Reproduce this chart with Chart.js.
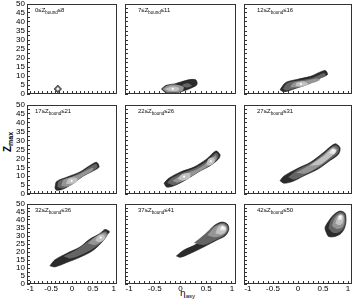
<!DOCTYPE html>
<html lang="en">
<head>
<meta charset="UTF-8" />
<title>Zmax vs eta_asy</title>
<script src="https://cdn.jsdelivr.net/npm/chart.js"></script>
<style>
  body { margin: 0; background: #fff; }
  #wrap { position: relative; width: 355px; height: 300px; overflow: hidden; font-family: "Liberation Sans", Arial, sans-serif; }
  #wrap canvas { position: absolute; }
  .lbl { position: absolute; font-size: 6px; line-height: 6px; color: #111; white-space: nowrap; }
  .lbl sub { font-size: 4.5px; vertical-align: -1.5px; line-height: 0; }
  #ytitle { position: absolute; left: 8px; top: 142px; transform: translate(-50%, -50%) rotate(-90deg); font-size: 10px; font-weight: bold; white-space: nowrap; line-height: 10px; }
  #ytitle sub { font-size: 7px; vertical-align: -2px; line-height: 0; }
  #xtitle { position: absolute; left: 180px; top: 289px; font-family: "DejaVu Sans", sans-serif; font-size: 9px; color: #000; white-space: nowrap; line-height: 9px; }
  #xtitle sub { font-family: "Liberation Sans", Arial, sans-serif; font-size: 6px; vertical-align: -2px; line-height: 0; }
</style>
</head>
<body>
<div id="wrap">
  <div id="ytitle">Z<sub>max</sub></div>
  <div id="xtitle">η<sub>asy</sub></div>
</div>
<script>
// Z_bound ranges of the nine panels
const zBoundRanges = [[0, 8], [7, 11], [12, 16], [17, 21], [22, 26], [27, 31], [32, 36], [37, 41], [42, 50]];

// axis ticks
const xTicks = [-1, -0.9, -0.8, -0.7, -0.6, -0.5, -0.4, -0.3, -0.2, -0.1, 0, 0.1, 0.2, 0.3, 0.4, 0.5, 0.6, 0.7, 0.8, 0.9, 1];
const xLabels = [-1, -0.5, 0, 0.5, 1];
const yTicks = [0, 2.5, 5, 7.5, 10, 12.5, 15, 17.5, 20, 22.5, 25, 27.5, 30, 32.5, 35, 37.5, 40, 42.5, 45, 47.5, 50];
const yLabels = [0, 5, 10, 15, 20, 25, 30, 35, 40, 45, 50];

// contour level fills, outer (lowest) to inner (highest)
const levelColors = ['#2b2b2b', '#646464', '#959595', '#c2c2c2', '#e8e8e8'];

// contour outlines per panel (eta_asy, Z_max), and the level of each outline
const shapes1 = [
  [[-0.34, 0.6], [-0.25, 2.8], [-0.34, 5.0], [-0.43, 2.8]],
  [[-0.34, 1.6], [-0.29, 2.8], [-0.34, 4.0], [-0.39, 2.8]]
];
const levels1 = [1, 3];
const peaks1 = [[-0.34, 2.8]];

const shapes2 = [
  [[-0.37, 2.8], [-0.3, 1.1], [-0.12, 0.5], [0.05, 1.6], [0.2, 3.2], [0.32, 5.2], [0.3, 7.8], [0.18, 8.0], [0.02, 6.8], [-0.12, 5.6], [-0.28, 4.8]],
  [[-0.35, 2.8], [-0.28, 1.3], [-0.12, 0.8], [0.04, 1.8], [0.06, 4.0], [-0.08, 5.2], [-0.26, 4.6]],
  [[0.06, 4.0], [0.14, 3.6], [0.22, 4.6], [0.14, 6.0], [0.04, 5.2]],
  [[-0.3, 2.8], [-0.2, 1.6], [-0.06, 1.8], [-0.02, 3.4], [-0.16, 4.2]]
];
const levels2 = [0, 2, 1, 3];
const peaks2 = [[-0.15, 2.9]];

const shapes3 = [
  [[-0.36, 2.3], [-0.25, 6.3], [-0.02, 8.1], [0.25, 9.8], [0.54, 13.1], [0.59, 10.8], [0.45, 9.0], [0.18, 5.4], [-0.05, 3.1], [-0.28, 1.2]],
  [[-0.3, 2.8], [-0.22, 6.0], [0.05, 7.6], [0.3, 9.0], [0.52, 11.6], [0.55, 10.2], [0.38, 7.8], [0.16, 4.8], [-0.05, 3.2], [-0.22, 2.0]],
  [[-0.16, 3.8], [-0.08, 6.4], [0.15, 7.4], [0.38, 8.6], [0.44, 7.8], [0.22, 5.4], [0.05, 3.8]],
  [[-0.05, 4.4], [-0.02, 6.4], [0.14, 6.8], [0.2, 5.4], [0.08, 4.2]]
];
const levels3 = [0, 1, 2, 3];
const peaks3 = [[0.06, 5.5]];

const shapes4 = [
  [[-0.41, 3.4], [-0.37, 7.0], [-0.13, 9.4], [0.19, 12.4], [0.43, 16.0], [0.59, 17.8], [0.65, 15.1], [0.51, 13.0], [0.27, 10.1], [0.03, 6.1], [-0.21, 2.8], [-0.37, 2.1]],
  [[-0.35, 3.8], [-0.32, 7.2], [-0.1, 9.0], [0.2, 12.0], [0.45, 15.6], [0.58, 16.8], [0.61, 15.0], [0.47, 12.6], [0.24, 9.6], [0.02, 5.8], [-0.2, 3.2]],
  [[-0.26, 4.6], [-0.2, 8.0], [0.08, 10.2], [0.36, 13.4], [0.5, 14.8], [0.5, 13.4], [0.22, 9.4], [0.04, 5.8], [-0.12, 4.2]],
  [[-0.14, 5.6], [-0.1, 8.2], [0.06, 9.2], [0.14, 8.0], [0.06, 6.0]]
];
const levels4 = [0, 1, 2, 3];
const peaks4 = [[-0.01, 7.4]];

const shapes5 = [
  [[-0.32, 6.1], [-0.23, 8.8], [0, 12.4], [0.26, 15.1], [0.51, 19.7], [0.69, 24.2], [0.77, 22.0], [0.74, 19.7], [0.58, 16.0], [0.35, 12.4], [0.1, 7.9], [-0.13, 4.6], [-0.27, 3.9]],
  [[-0.26, 6.2], [-0.18, 8.8], [0.04, 12.0], [0.3, 14.8], [0.53, 19.0], [0.69, 23.0], [0.74, 21.4], [0.7, 19.2], [0.54, 15.8], [0.33, 12.2], [0.09, 8.0], [-0.12, 5.0]],
  [[-0.16, 7.4], [0.06, 11.0], [0.33, 14.0], [0.55, 18.2], [0.68, 21.6], [0.7, 19.4], [0.56, 16.0], [0.35, 12.4], [0.12, 8.4], [-0.06, 6.4]],
  [[-0.06, 8.6], [0.04, 11.2], [0.18, 11.6], [0.18, 9.0], [0.04, 7.6]],
  [[0.5, 16.6], [0.55, 19.8], [0.65, 20.4], [0.66, 17.8], [0.57, 16.0]]
];
const levels5 = [0, 1, 2, 3, 3];
const peaks5 = [[0.07, 9.8], [0.59, 18.4]];

const shapes6 = [
  [[-0.36, 7.5], [-0.28, 10.1], [-0.02, 14.2], [0.25, 17.8], [0.51, 23.3], [0.74, 28.2], [0.84, 26.0], [0.81, 22.4], [0.64, 18.8], [0.41, 14.2], [0.11, 10.1], [-0.11, 7.0], [-0.28, 6.1]],
  [[-0.2, 9.4], [0.0, 13.8], [0.26, 17.4], [0.52, 22.8], [0.74, 27.4], [0.82, 25.8], [0.79, 22.6], [0.62, 19.0], [0.4, 14.6], [0.12, 10.6], [-0.08, 8.2]],
  [[-0.04, 11.8], [0.24, 16.4], [0.5, 21.6], [0.7, 26.4], [0.79, 24.8], [0.64, 20.4], [0.42, 15.6], [0.16, 11.6]],
  [[0.24, 16.0], [0.5, 21.0], [0.69, 25.6], [0.77, 24.2], [0.64, 20.6], [0.44, 16.6]],
  [[0.62, 23.0], [0.69, 25.4], [0.76, 24.6], [0.72, 22.4]]
];
const levels6 = [0, 1, 2, 3, 4];
const peaks6 = [[0.71, 24.4]];

const shapes7 = [
  [[-0.53, 11.4], [-0.41, 15.1], [-0.13, 19.1], [0.19, 23.1], [0.43, 28.1], [0.67, 31.5], [0.79, 34.1], [0.9, 32.7], [0.85, 31.1], [0.75, 27.1], [0.51, 21.1], [0.19, 16.7], [-0.13, 13.4], [-0.41, 10.7]],
  [[-0.2, 17.4], [0.1, 21.2], [0.4, 26.8], [0.62, 30.6], [0.8, 33.0], [0.86, 31.2], [0.76, 27.4], [0.52, 22.4], [0.2, 18.0], [-0.05, 16.0]],
  [[0.38, 25.4], [0.58, 29.8], [0.78, 32.2], [0.84, 30.2], [0.74, 27.0], [0.55, 24.4]],
  [[0.56, 27.2], [0.64, 30.4], [0.77, 30.8], [0.78, 28.0], [0.66, 26.2]]
];
const levels7 = [0, 1, 2, 3];
const peaks7 = [[0.69, 29.0]];

const shapes8 = [
  [[-0.08, 17.5], [0.06, 21.1], [0.32, 25.1], [0.51, 31.1], [0.64, 36.1], [0.8, 38.7], [0.91, 37.5], [0.94, 34.1], [0.87, 30.1], [0.71, 27.5], [0.45, 23.1], [0.19, 19.1], [0, 16.7]],
  [[0.26, 25.6], [0.48, 31.4], [0.63, 35.8], [0.8, 38.2], [0.9, 37.2], [0.93, 34.0], [0.86, 30.4], [0.7, 27.8], [0.46, 24.4]],
  [[0.52, 30.4], [0.65, 35.2], [0.8, 37.6], [0.89, 36.4], [0.91, 33.6], [0.83, 30.8], [0.67, 29.2]],
  [[0.68, 31.6], [0.73, 35.6], [0.82, 36.8], [0.89, 35.2], [0.87, 32.4], [0.78, 31.0]],
  [[0.77, 33.4], [0.79, 35.8], [0.87, 35.6], [0.87, 33.6]]
];
const levels8 = [0, 1, 2, 3, 4];
const peaks8 = [[0.82, 35.2]];

const shapes9 = [
  [[0.58, 31.1], [0.54, 35.1], [0.61, 39.2], [0.71, 43.2], [0.84, 45.6], [0.94, 44.2], [0.96, 39.2], [0.92, 34.2], [0.84, 31.1], [0.71, 29.5], [0.61, 29.7]],
  [[0.61, 34.8], [0.65, 39.4], [0.74, 43.2], [0.85, 45.0], [0.93, 43.8], [0.95, 39.0], [0.9, 34.2], [0.8, 32.0], [0.69, 32.2]],
  [[0.68, 36.4], [0.73, 40.8], [0.82, 43.8], [0.91, 43.2], [0.93, 39.4], [0.89, 35.6], [0.78, 34.4]],
  [[0.75, 37.6], [0.79, 41.8], [0.86, 43.4], [0.91, 41.8], [0.89, 38.2], [0.82, 36.8]],
  [[0.8, 40.2], [0.82, 42.8], [0.88, 42.8], [0.87, 40.2]]
];
const levels9 = [0, 1, 2, 3, 4];
const peaks9 = [[0.84, 41.8]];

const allShapes = [shapes1, shapes2, shapes3, shapes4, shapes5, shapes6, shapes7, shapes8, shapes9];
const allLevels = [levels1, levels2, levels3, levels4, levels5, levels6, levels7, levels8, levels9];
const allPeaks = [peaks1, peaks2, peaks3, peaks4, peaks5, peaks6, peaks7, peaks8, peaks9];

// panel frames in page pixels
const colFrames = [[27, 117], [124, 236], [243, 352]];
const rowFrames = [[2, 95], [103, 195], [202, 284]];

const framePlugin = {
  id: 'frame',
  afterDraw(chart) {
    const a = chart.chartArea, ctx = chart.ctx;
    ctx.save();
    ctx.strokeStyle = '#333';
    ctx.lineWidth = 1;
    ctx.strokeRect(a.left + 0.5, a.top + 0.5, a.right - a.left - 1, a.bottom - a.top - 1);
    ctx.restore();
  }
};

const wrap = document.getElementById('wrap');
const tickFont = { family: '"Liberation Sans", Arial, sans-serif', size: 8 };

for (let i = 0; i < 9; i++) {
  const r = Math.floor(i / 3), c = i % 3;
  const [fl, fr] = colFrames[c];
  const [ft, fb] = rowFrames[r];
  const yw = c === 0 ? 27 : 3;
  const xh = r === 2 ? 13 : 3;
  const W = yw + (fr - fl) + 5;
  const H = 2 + (fb - ft) + xh;

  const cv = document.createElement('canvas');
  cv.width = W; cv.height = H;
  cv.style.width = W + 'px'; cv.style.height = H + 'px';
  cv.style.left = (fl - yw) + 'px'; cv.style.top = (ft - 2) + 'px';
  wrap.appendChild(cv);

  const lab = document.createElement('div');
  lab.className = 'lbl';
  lab.style.left = (fl + (c === 0 ? 8 : 14)) + 'px';
  lab.style.top = (ft + 5) + 'px';
  const [lo, hi] = zBoundRanges[i];
  lab.innerHTML = lo + '≤Z<sub>bound</sub>≤' + hi;
  wrap.appendChild(lab);

  const datasets = allShapes[i].map((poly, k) => ({
    data: poly.concat([poly[0]]).map(([x, y]) => ({ x, y })),
    showLine: true,
    fill: 'shape',
    tension: i === 0 ? 0 : 0.3,
    backgroundColor: levelColors[allLevels[i][k]],
    borderColor: k === 0 ? '#1a1a1a' : 'rgba(0,0,0,0)',
    borderWidth: k === 0 ? 0.6 : 0,
    pointRadius: 0
  }));
  datasets.push({
    data: allPeaks[i].map(([x, y]) => ({ x, y })),
    showLine: false,
    pointRadius: 1.1,
    pointBackgroundColor: '#ffffff',
    pointBorderWidth: 0
  });
  // first dataset is painted last, so put the outer contour at the end
  datasets.reverse();

  new Chart(cv, {
    type: 'scatter',
    data: { datasets },
    options: {
      responsive: false,
      animation: false,
      devicePixelRatio: 1,
      events: [],
      layout: { padding: { top: 2, right: 5, left: 0, bottom: 0 } },
      plugins: { legend: { display: false }, tooltip: { enabled: false } },
      scales: {
        x: {
          type: 'linear', min: -1.08, max: 1.08,
          afterBuildTicks: s => { s.ticks = xTicks.map(v => ({ value: v })); },
          afterFit: s => { s.height = xh; s.paddingLeft = 0; s.paddingRight = 0; s.paddingTop = 0; s.paddingBottom = 0; },
          border: { display: false },
          grid: { drawOnChartArea: false, drawTicks: true, tickLength: -3, tickColor: '#333', color: '#333' },
          ticks: {
            display: r === 2, autoSkip: false, maxRotation: 0, minRotation: 0, padding: 3,
            font: tickFont, color: '#000',
            callback: v => xLabels.includes(v) ? String(v) : ''
          }
        },
        y: {
          type: 'linear', min: 0, max: 50,
          afterBuildTicks: s => { s.ticks = yTicks.map(v => ({ value: v })); },
          afterFit: s => { s.width = yw; s.paddingLeft = 0; s.paddingRight = 0; s.paddingTop = 0; s.paddingBottom = 0; },
          border: { display: false },
          grid: { drawOnChartArea: false, drawTicks: true, tickLength: -3, tickColor: '#333', color: '#333' },
          ticks: {
            display: c === 0, autoSkip: false, padding: 5,
            font: tickFont, color: '#000',
            callback: v => yLabels.includes(v) ? String(v) : ''
          }
        }
      }
    },
    plugins: [framePlugin]
  });
}
</script>
</body>
</html>
